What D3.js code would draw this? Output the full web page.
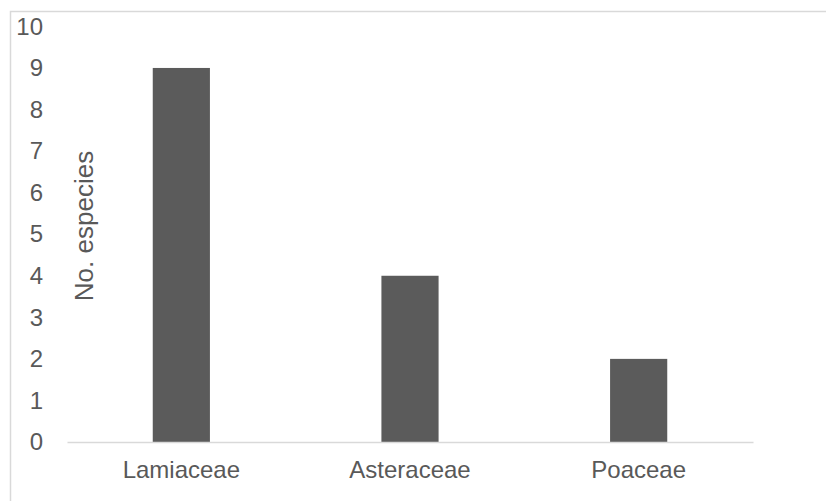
<!DOCTYPE html>
<html>
<head>
<meta charset="utf-8">
<script src="https://cdn.jsdelivr.net/npm/d3@7"></script>
<style>
  html, body { margin: 0; padding: 0; background: #fff; }
  svg { display: block; font-family: Arial, "Liberation Sans", sans-serif; }
</style>
</head>
<body>
<svg id="chart" width="826" height="501"></svg>
<script>
// Number of species per plant family
const families = ["Lamiaceae", "Asteraceae", "Poaceae"];
const speciesCount = [9, 4, 2];
const yTicks = [0, 1, 2, 3, 4, 5, 6, 7, 8, 9, 10];
const yTitle = "No. especies";

const width = 826, height = 501;
const margin = { top: 26.4, right: 73, bottom: 59, left: 67 };
const textColor = "#595959";
const barColor = "#5b5b5b";
const lineColor = "#d9d9d9";

const svg = d3.select("#chart");

// chart frame
svg.append("rect")
  .attr("x", 10.5).attr("y", 11.5)
  .attr("width", 830).attr("height", 500)
  .attr("fill", "none").attr("stroke", lineColor).attr("stroke-width", 1.5);

const x = d3.scaleBand()
  .domain(families)
  .range([margin.left, width - margin.right])
  .paddingInner(0.75).paddingOuter(0.375);

const y = d3.scaleLinear()
  .domain([0, 10])
  .range([height - margin.bottom, margin.top]);

// bars
svg.append("g")
  .selectAll("rect")
  .data(families.map((f, i) => ({ f, v: speciesCount[i] })))
  .join("rect")
  .attr("x", d => x(d.f))
  .attr("y", d => y(d.v))
  .attr("width", x.bandwidth())
  .attr("height", d => y(0) - y(d.v))
  .attr("fill", barColor);

// category axis
const xAxis = svg.append("g")
  .attr("transform", `translate(0,${y(0)})`)
  .call(d3.axisBottom(x).tickSize(0).tickPadding(19));
xAxis.select(".domain").attr("stroke", lineColor).attr("stroke-width", 1.5);
xAxis.selectAll("text")
  .attr("fill", textColor)
  .style("font-size", "24px")
  .attr("dy", "0.71em");

// value axis (labels only)
const yAxis = svg.append("g")
  .attr("transform", `translate(${margin.left},0)`)
  .call(d3.axisLeft(y).tickValues(yTicks).tickSize(0).tickPadding(24).tickFormat(d3.format("d")));
yAxis.select(".domain").remove();
yAxis.selectAll("text")
  .attr("fill", textColor)
  .style("font-size", "24px");

// axis title
svg.append("text")
  .attr("transform", `translate(93,${(150 + 302) / 2}) rotate(-90)`)
  .attr("text-anchor", "middle")
  .attr("fill", textColor)
  .style("font-size", "26px")
  .text(yTitle);
</script>
</body>
</html>
